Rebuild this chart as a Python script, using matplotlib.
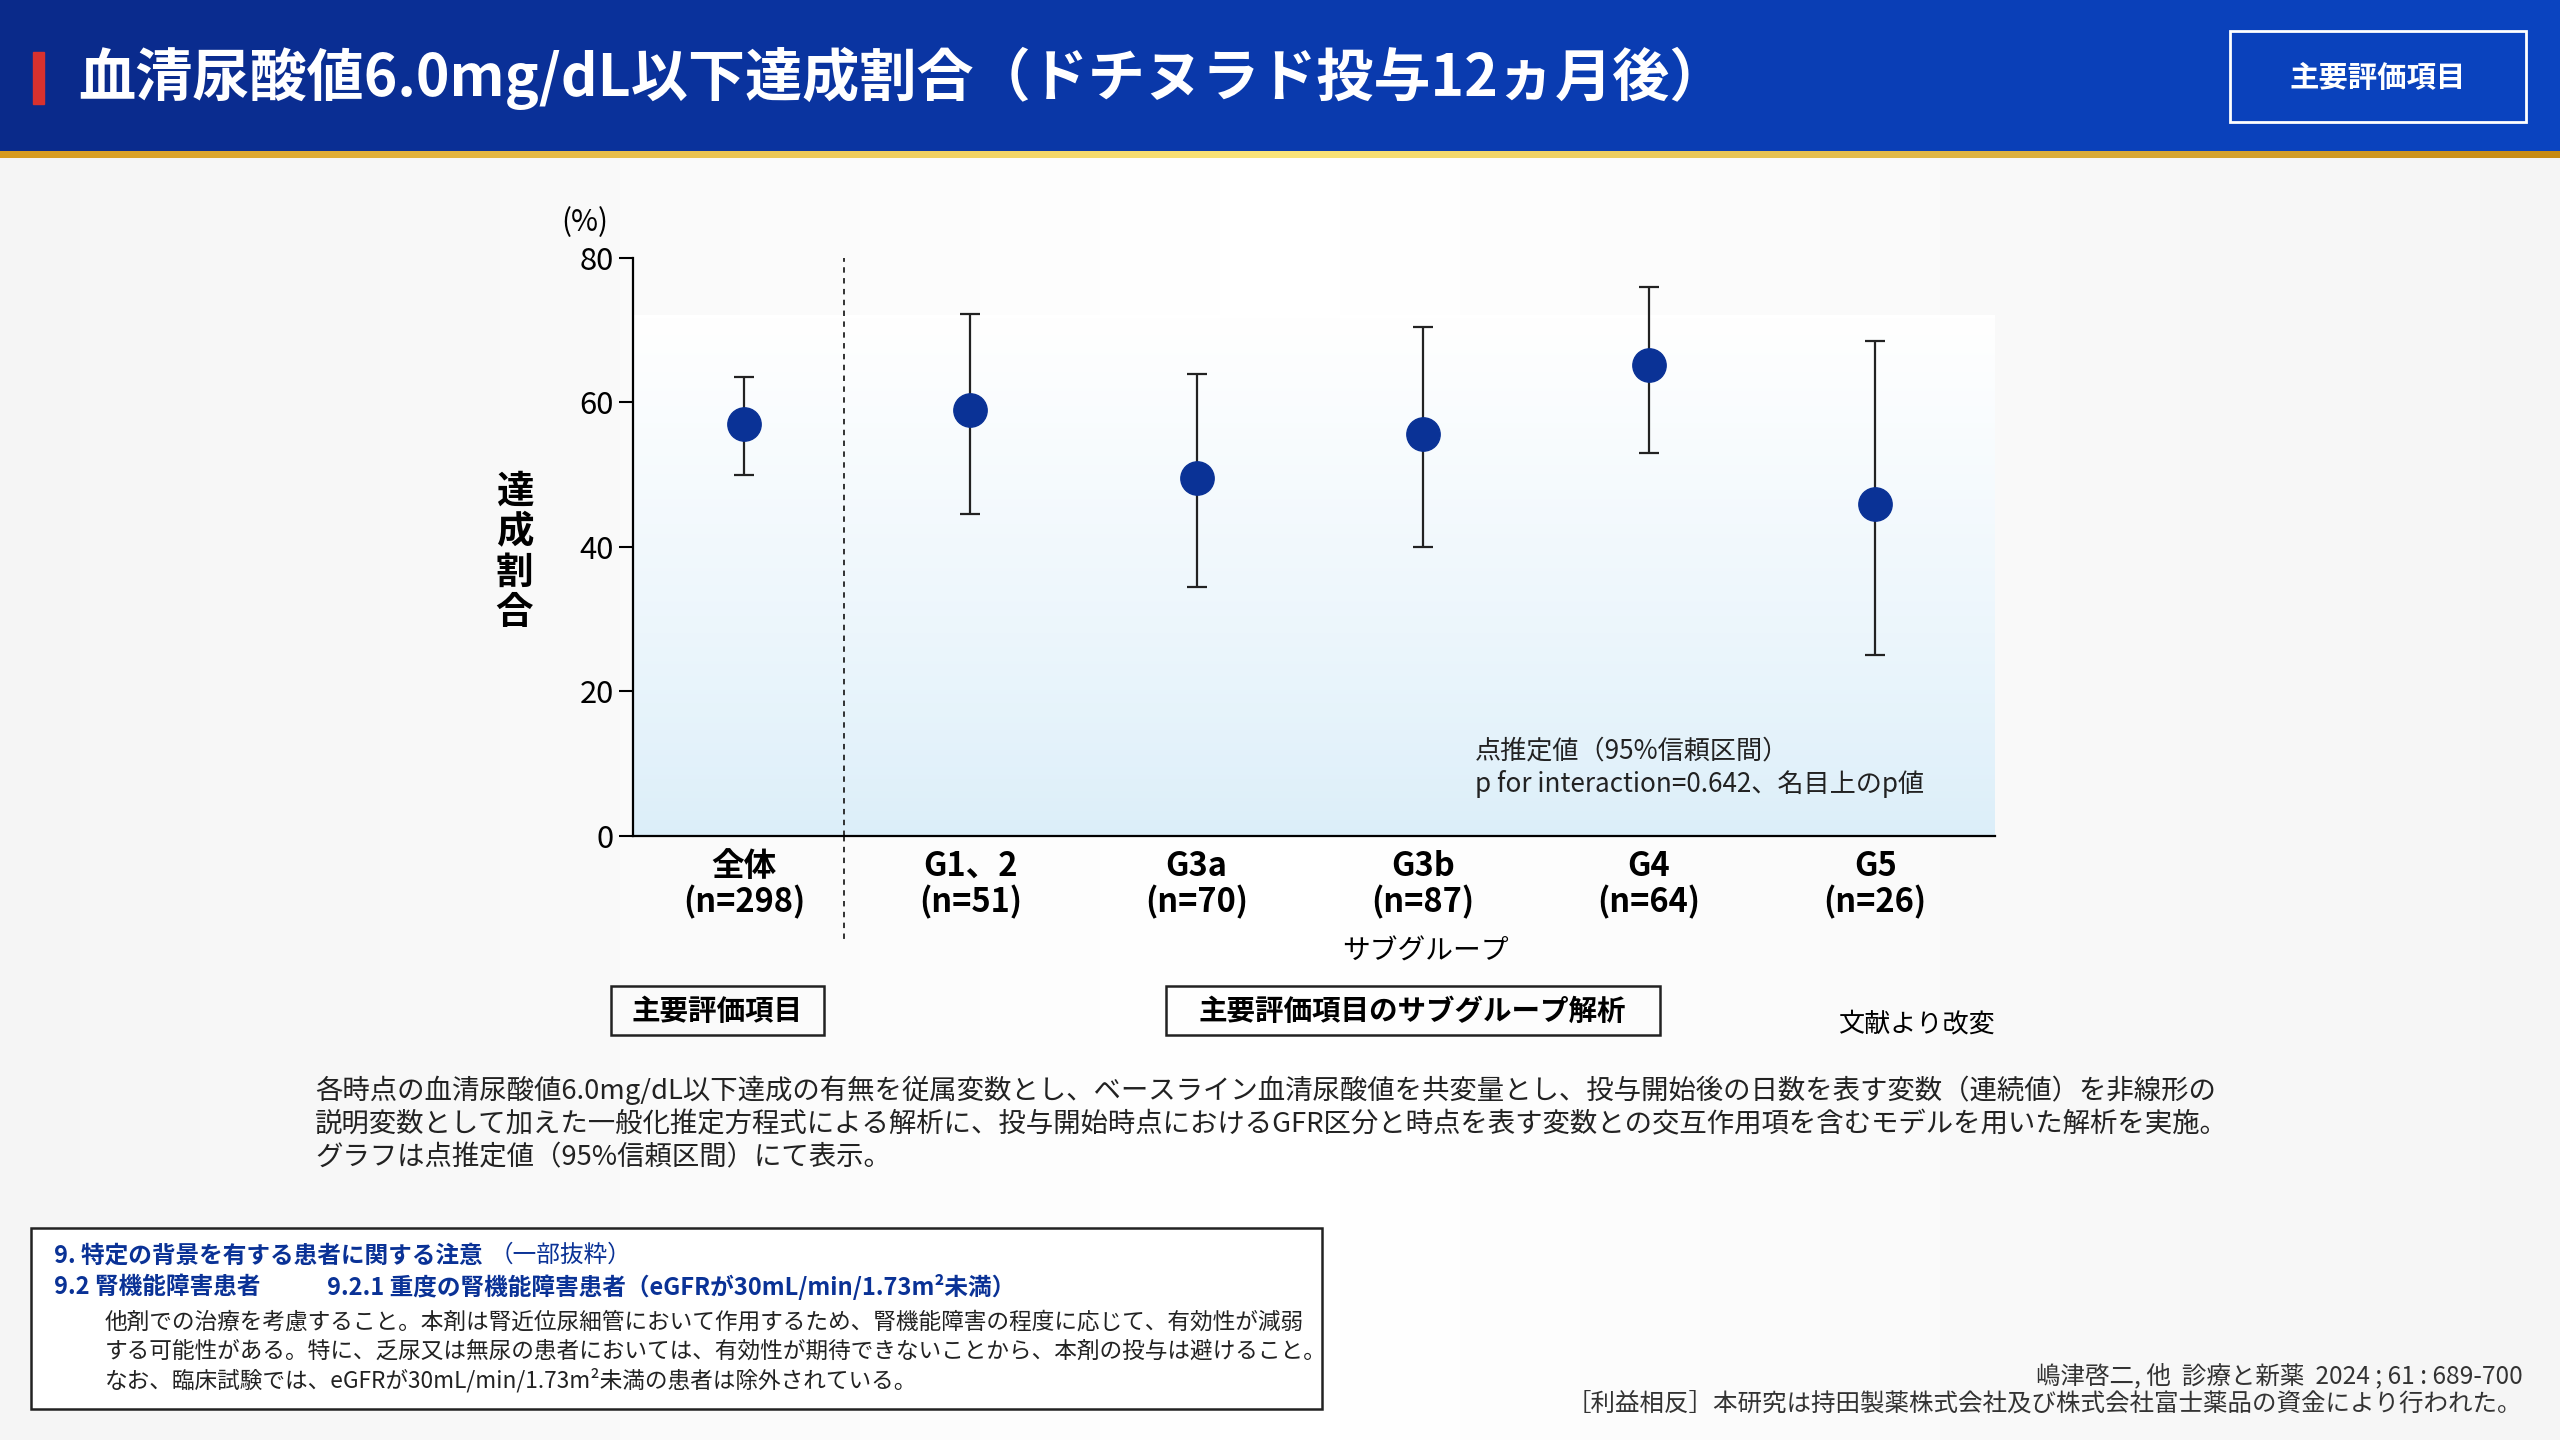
import matplotlib
matplotlib.use("Agg")
import matplotlib.pyplot as plt
from matplotlib.patches import Rectangle
from matplotlib.colors import LinearSegmentedColormap
import numpy as np

plt.rcParams['font.family'] = ['Noto Sans CJK JP', 'DejaVu Sans']

# data
groups = ["全体\n(n=298)", "G1、2\n(n=51)", "G3a\n(n=70)", "G3b\n(n=87)", "G4\n(n=64)", "G5\n(n=26)"]
estimate = [57.0, 59.0, 49.5, 55.7, 65.2, 46.0]
ci_low = [50.0, 44.5, 34.5, 40.0, 53.0, 25.0]
ci_high = [63.5, 72.2, 64.0, 70.5, 76.0, 68.5]
yticks = [0, 20, 40, 60, 80]

W, H = 1568, 882
def fs(px):
    return px * 2560 / W * 0.72

fig = plt.figure(figsize=(25.6, 14.4), dpi=100)

# overlay for decorations in reference pixel frame
bg = fig.add_axes([0, 0, 1, 1])
bg.set_xlim(0, W); bg.set_ylim(H, 0); bg.axis("off")
grad = np.linspace(0, 1, 256)[None, :]
bg.imshow(np.abs(grad - 0.5) * 2, extent=[0, W, H, 95], cmap="Greys", vmin=0, vmax=12, aspect="auto", zorder=0)
hcm = LinearSegmentedColormap.from_list("h", ["#0a2a8a", "#0a3aad", "#0b44c0"])
bg.imshow(grad, extent=[0, W, 93, 0], cmap=hcm, aspect="auto", zorder=1)
gcm = LinearSegmentedColormap.from_list("g", ["#d79a1e", "#fbe57a", "#c78a12"])
bg.imshow(grad, extent=[0, W, 97, 93], cmap=gcm, aspect="auto", zorder=1)
bg.add_patch(Rectangle((20, 32), 7, 32, color="#d8312e", zorder=2))
bg.text(48, 48, "血清尿酸値6.0mg/dL以下達成割合（ドチヌラド投与12ヵ月後）", color="white",
        fontsize=fs(35), fontweight="bold", va="center", zorder=3)
bg.add_patch(Rectangle((1366, 19), 181, 56, fill=False, ec="white", lw=2, zorder=3))
bg.text(1456, 48, "主要評価項目", color="white", fontsize=fs(18), fontweight="bold",
        ha="center", va="center", zorder=3)

# chart
x0, x1, y0, y1 = 388, 1222, 158, 512
ax = fig.add_axes([x0 / W, 1 - y1 / H, (x1 - x0) / W, (y1 - y0) / H])
ax.set_facecolor("none")
ax.set_ylim(0, 80)
ax.set_xlim(-0.49, 5.53)
ax.imshow(np.linspace(1, 0, 256)[:, None] ** 0.8, extent=[-0.49, 5.53, 0, 72],
          cmap=LinearSegmentedColormap.from_list("b", ["#dbeef9", "#ffffff"]), aspect="auto", zorder=0)
xs = np.arange(len(groups))
yerr = [np.array(estimate) - np.array(ci_low), np.array(ci_high) - np.array(estimate)]
ax.errorbar(xs, estimate, yerr=yerr, fmt="o", color="#0a3296", ecolor="#222222",
            elinewidth=1.6, capsize=7, capthick=1.6, markersize=24, zorder=3)
ax.axvline(0.44, ymin=0, ymax=1, color="#222222", ls=(0, (3, 3)), lw=1.3)
ax.plot([0.44, 0.44], [0, -14.5], color="#222222", ls=(0, (3, 3)), lw=1.3, clip_on=False)
ax.set_yticks(yticks)
ax.set_yticklabels([str(v) for v in yticks], fontsize=fs(19))
ax.set_xticks(xs)
ax.set_xticklabels(groups, fontsize=fs(20), fontweight="bold", linespacing=1.1)
ax.tick_params(axis="x", length=0, pad=10)
ax.tick_params(axis="y", length=10, width=1.5, pad=4)
for s in ["top", "right"]:
    ax.spines[s].set_visible(False)
for s in ["left", "bottom"]:
    ax.spines[s].set_linewidth(1.6)
ax.text(3.23, 9.5, "点推定値（95%信頼区間）\np for interaction=0.642、名目上のp値", fontsize=fs(16),
        ha="left", va="center", linespacing=1.25, color="#222222")

bg.text(358, 136, "(%)", fontsize=fs(18), ha="center", va="center")
bg.text(315, 338, "達\n成\n割\n合", fontsize=fs(23), fontweight="bold", ha="center", va="center", linespacing=1.05)
bg.text(873, 583, "サブグループ", fontsize=fs(17), ha="center", va="center")
bg.add_patch(Rectangle((374, 604), 131, 30, fill=False, ec="#222222", lw=1.8))
bg.text(439, 619, "主要評価項目", fontsize=fs(17.5), fontweight="bold", ha="center", va="center")
bg.add_patch(Rectangle((714, 604), 303, 30, fill=False, ec="#222222", lw=1.8))
bg.text(865, 619, "主要評価項目のサブグループ解析", fontsize=fs(17.5), fontweight="bold", ha="center", va="center")
bg.text(1174, 627, "文献より改変", fontsize=fs(16), ha="center", va="center")

bg.text(193, 688,
        "各時点の血清尿酸値6.0mg/dL以下達成の有無を従属変数とし、ベースライン血清尿酸値を共変量とし、投与開始後の日数を表す変数（連続値）を非線形の\n"
        "説明変数として加えた一般化推定方程式による解析に、投与開始時点におけるGFR区分と時点を表す変数との交互作用項を含むモデルを用いた解析を実施。\n"
        "グラフは点推定値（95%信頼区間）にて表示。",
        fontsize=fs(16.8), va="center", linespacing=1.3, color="#222222")

bg.add_patch(Rectangle((19, 752), 791, 111, fill=True, fc="white", ec="#222222", lw=1.8))
blue = "#0a3296"
bg.text(33, 769, "9. 特定の背景を有する患者に関する注意", fontsize=fs(14.5), fontweight="bold", color=blue, va="center")
bg.text(300, 769, "（一部抜粋）", fontsize=fs(14.5), color=blue, va="center")
bg.text(33, 788, "9.2 腎機能障害患者", fontsize=fs(14.5), fontweight="bold", color=blue, va="center")
bg.text(200, 788, "9.2.1 重度の腎機能障害患者（eGFRが30mL/min/1.73m²未満）", fontsize=fs(14.5), fontweight="bold", color=blue, va="center")
bg.text(64, 828,
        "他剤での治療を考慮すること。本剤は腎近位尿細管において作用するため、腎機能障害の程度に応じて、有効性が減弱\n"
        "する可能性がある。特に、乏尿又は無尿の患者においては、有効性が期待できないことから、本剤の投与は避けること。\n"
        "なお、臨床試験では、eGFRが30mL/min/1.73m²未満の患者は除外されている。",
        fontsize=fs(13.9), va="center", linespacing=1.3, color="#222222")

bg.text(1545, 843, "嶋津啓二, 他  診療と新薬  2024 ; 61 : 689-700", fontsize=fs(15), ha="right", va="center", color="#333333")
bg.text(1545, 860, "［利益相反］本研究は持田製薬株式会社及び株式会社富士薬品の資金により行われた。", fontsize=fs(15), ha="right", va="center", color="#333333")

fig.savefig("out.png", dpi=100)
